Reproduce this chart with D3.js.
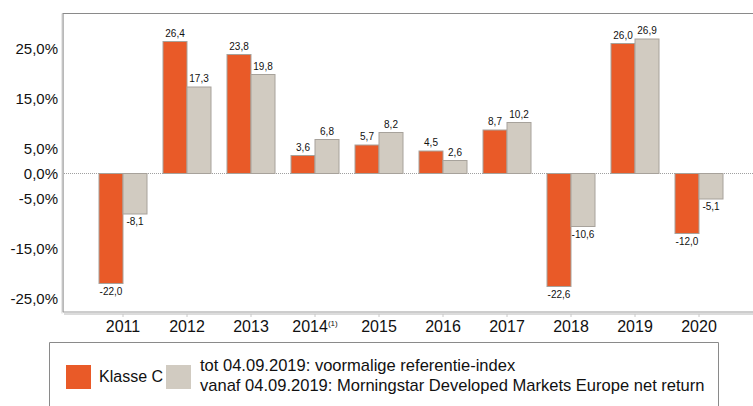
<!DOCTYPE html>
<html>
<head>
<meta charset="utf-8">
<script src="https://cdn.jsdelivr.net/npm/d3@7"></script>
<style>
  html, body { margin: 0; padding: 0; background: #fff; }
  svg { display: block; }
</style>
</head>
<body>
<div id="chart"></div>
<script>
// Returns per year: class C vs reference index
const years = ['2011', '2012', '2013', '2014', '2015', '2016', '2017', '2018', '2019', '2020'];
const klasseC = [-22.0, 26.4, 23.8, 3.6, 5.7, 4.5, 8.7, -22.6, 26.0, -12.0];
const referentie = [-8.1, 17.3, 19.8, 6.8, 8.2, 2.6, 10.2, -10.6, 26.9, -5.1];
const yTicks = [25, 15, 5, 0, -5, -15, -25];
const legendLines = [
    'tot 04.09.2019: voormalige referentie-index',
    'vanaf 04.09.2019: Morningstar Developed Markets Europe net return'
];

(function () {
    const width = 753;
    const height = 406;
    const plot = { left: 63, right: 759, top: 13.5, bottom: 313.5 };
    const orange = '#e95a28';
    const grey = '#d1cbc1';
    const font = '"Liberation Sans", Arial, sans-serif';

    const svg = d3.select('#chart')
        .append('svg')
        .attr('width', width)
        .attr('height', height)
        .style('font-family', font);

    const x0 = d3.scaleBand()
        .domain(years)
        .range([plot.left, plot.right])
        .paddingInner(0.25)
        .paddingOuter(0.5625);

    const x1 = d3.scaleBand()
        .domain(['c', 'r'])
        .range([0, x0.bandwidth()]);

    const y = d3.scaleLinear()
        .domain([-28, 32])
        .range([plot.bottom, plot.top]);

    const fmt = v => d3.format('.1f')(v).replace('.', ',').replace('−', '-');

    // plot frame (left + top)
    svg.append('path')
        .attr('d', `M${plot.left},${y(-28) - 1.5}V${plot.top}H${width}`)
        .attr('fill', 'none')
        .attr('stroke', '#8a8a8a')
        .attr('stroke-width', 1.2);

    svg.append('line')
        .attr('x1', plot.left - 1).attr('x2', plot.left - 1)
        .attr('y1', plot.top).attr('y2', y(-28))
        .attr('stroke', '#d0d0d0');

    svg.append('line')
        .attr('x1', plot.left).attr('x2', width)
        .attr('y1', y(-28) - 1.5).attr('y2', y(-28) - 1.5)
        .attr('stroke', '#9a9a9a');

    // x axis line with small ticks at the category centres
    const xAxis = svg.append('g')
        .attr('transform', `translate(0,${y(-28) + 0.5})`);
    xAxis.append('line')
        .attr('x1', plot.left + 1).attr('x2', width)
        .attr('stroke', '#b8b8b8');
    xAxis.selectAll('line.tick')
        .data(years)
        .enter()
        .append('line')
        .attr('class', 'tick')
        .attr('x1', d => x0(d) + x0.bandwidth() / 2)
        .attr('x2', d => x0(d) + x0.bandwidth() / 2)
        .attr('y1', 0).attr('y2', 3)
        .attr('stroke', '#c8c8c8');

    const yearLabels = xAxis.selectAll('text')
        .data(years)
        .enter()
        .append('text')
        .attr('x', d => x0(d) + x0.bandwidth() / 2)
        .attr('y', 18)
        .attr('text-anchor', 'middle')
        .attr('font-size', 16)
        .attr('fill', '#111');
    yearLabels.append('tspan').text(d => d);
    yearLabels.filter(d => d === '2014')
        .append('tspan')
        .attr('font-size', 8)
        .attr('dy', -6)
        .text('(1)');

    // y tick labels
    svg.append('g')
        .selectAll('text')
        .data(yTicks)
        .enter()
        .append('text')
        .attr('x', 58)
        .attr('y', d => y(d))
        .attr('dy', '0.36em')
        .attr('text-anchor', 'end')
        .attr('font-size', 15)
        .attr('fill', '#111')
        .text(d => fmt(d) + '%');

    // zero line
    svg.append('line')
        .attr('x1', plot.left + 1).attr('x2', width)
        .attr('y1', y(0)).attr('y2', y(0))
        .attr('stroke', '#a0a0a0')
        .attr('stroke-dasharray', '1,1');

    const rows = years.map((yr, i) => ({ year: yr, c: klasseC[i], r: referentie[i] }));

    const groups = svg.append('g')
        .selectAll('g')
        .data(rows)
        .enter()
        .append('g')
        .attr('transform', d => `translate(${x0(d.year)},0)`);

    const bars = groups.selectAll('g')
        .data(d => [{ key: 'c', v: d.c }, { key: 'r', v: d.r }])
        .enter()
        .append('g');

    bars.append('rect')
        .attr('x', d => x1(d.key))
        .attr('y', d => y(Math.max(0, d.v)))
        .attr('width', x1.bandwidth())
        .attr('height', d => Math.abs(y(d.v) - y(0)))
        .attr('fill', d => d.key === 'c' ? orange : grey)
        .attr('stroke', '#a7a29b')
        .attr('stroke-width', 1);

    bars.append('text')
        .attr('x', d => x1(d.key) + x1.bandwidth() / 2)
        .attr('y', d => d.v >= 0 ? y(d.v) - 5 : y(d.v) + 11)
        .attr('text-anchor', 'middle')
        .attr('font-size', 10)
        .attr('fill', '#111')
        .text(d => fmt(d.v));

    // legend
    const legend = svg.append('g');
    legend.append('path')
        .attr('d', `M49.5,${height}V342.5H718.5V${height}`)
        .attr('fill', 'none')
        .attr('stroke', '#8a8a8a');

    legend.append('rect')
        .attr('x', 66).attr('y', 365)
        .attr('width', 25).attr('height', 24)
        .attr('fill', orange);
    legend.append('text')
        .attr('x', 99).attr('y', 382)
        .attr('font-size', 16)
        .attr('fill', '#111')
        .text('Klasse C');

    legend.append('rect')
        .attr('x', 166).attr('y', 365)
        .attr('width', 25).attr('height', 24)
        .attr('fill', grey);
    const lt = legend.selectAll('text.l')
        .data(legendLines)
        .enter()
        .append('text')
        .attr('class', 'l')
        .attr('x', 200)
        .attr('y', (d, i) => 371 + i * 20)
        .attr('font-size', 15.5)
        .attr('fill', '#111')
        .text(d => d);
    // fit the long line to the reference width
    const longest = lt.filter((d, i) => i === 1).node().getComputedTextLength();
    lt.attr('font-size', 15.5 * 505 / longest);
})();
</script>
</body>
</html>
